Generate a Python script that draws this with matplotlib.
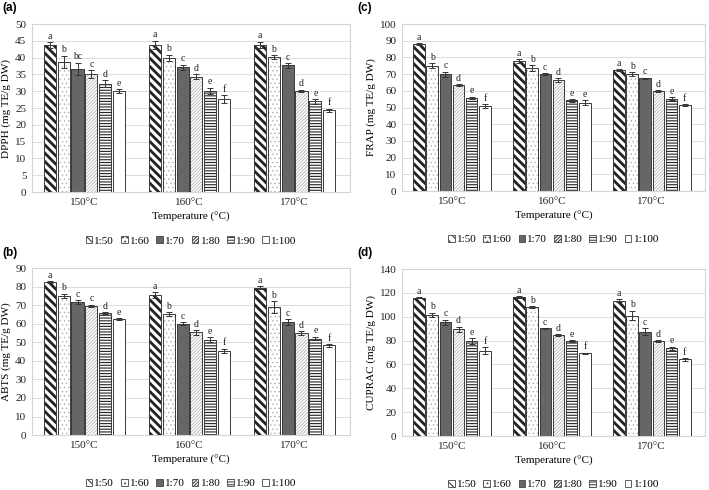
import matplotlib
matplotlib.use("Agg")
import matplotlib.pyplot as plt
from matplotlib.patches import Patch
import numpy as np

plt.rcParams["font.family"] = ["Liberation Serif", "DejaVu Serif"]
plt.rcParams["hatch.linewidth"] = 0.8

temps = ["150°C", "160°C", "170°C"]
ratios = ["1:50", "1:60", "1:70", "1:80", "1:90", "1:100"]

# rows = temperature, columns = ratio
dpph = [[43.7, 38.8, 36.7, 35.1, 32.3, 30.1],
        [43.8, 40.0, 37.1, 34.3, 30.1, 27.7],
        [43.8, 40.2, 37.7, 30.2, 27.0, 24.3]]
dpph_err = [[0.8, 1.8, 1.8, 1.2, 1.0, 0.6],
            [1.2, 0.9, 0.8, 0.7, 1.0, 1.2],
            [0.9, 0.6, 0.7, 0.3, 0.7, 0.5]]
dpph_let = [["a", "b", "bc", "c", "d", "e"],
            ["a", "b", "c", "d", "e", "f"],
            ["a", "b", "c", "d", "e", "f"]]

abts = [[82.5, 75.0, 71.8, 69.7, 65.7, 62.5],
        [75.5, 65.1, 60.1, 55.3, 51.5, 45.3],
        [79.4, 69.0, 61.0, 55.1, 52.0, 48.3]]
abts_err = [[0.6, 1.2, 1.0, 0.6, 0.5, 0.6],
            [1.5, 1.0, 0.6, 1.4, 1.2, 1.2],
            [0.9, 3.0, 1.5, 1.0, 1.0, 0.7]]
abts_let = [["a", "b", "c", "c", "d", "e"],
            ["a", "b", "c", "d", "e", "f"],
            ["a", "b", "c", "d", "e", "f"]]

frap = [[88.0, 75.0, 70.0, 63.5, 56.0, 51.0],
        [77.8, 73.6, 69.8, 66.5, 54.3, 53.0],
        [72.5, 70.0, 67.4, 60.0, 55.4, 51.3]]
frap_err = [[0.5, 1.5, 1.5, 0.6, 0.6, 1.0],
            [1.0, 1.8, 0.6, 1.2, 0.8, 1.5],
            [0.4, 1.0, 0.5, 0.4, 0.8, 0.6]]
frap_let = [["a", "b", "c", "d", "e", "f"],
            ["a", "b", "c", "d", "e", "e"],
            ["a", "b", "c", "d", "e", "f"]]

cuprac = [[116.0, 101.5, 95.5, 89.5, 79.5, 71.5],
          [116.5, 108.0, 90.2, 84.5, 79.7, 69.3],
          [113.5, 101.0, 87.5, 79.7, 73.5, 64.2]]
cuprac_err = [[0.6, 1.8, 2.0, 2.2, 2.5, 2.8],
              [0.5, 0.7, 0.3, 0.7, 0.6, 0.6],
              [1.2, 4.0, 3.0, 0.6, 1.5, 1.0]]
cuprac_let = [["a", "b", "c", "d", "e", "f"],
              ["a", "b", "c", "d", "e", "f"],
              ["a", "b", "c", "d", "e", "f"]]

# style per ratio: face, hatch, hatch colour, hatch linewidth
styles = [("white", "\\" * 4, "#222222", 2.0),
          ("white", "....", "#b0b0b0", 0.5),
          ("#666666", None, None, 0.8),
          ("white", "/" * 10, "#a8a8a8", 0.5),
          ("white", "-" * 6, "#222222", 0.8),
          ("white", None, None, 0.8)]

width = 0.115
step = 0.132
x = np.arange(len(temps))


def draw_bars(ax, x0, h, face, hatch, hcol, hlw):
    if hatch:
        b = ax.bar(x0, h, width, color=face, edgecolor=hcol, hatch=hatch, linewidth=0, zorder=2)
        for p in b:
            if hasattr(p, "set_hatch_linewidth"):
                p.set_hatch_linewidth(hlw)
    else:
        ax.bar(x0, h, width, color=face, linewidth=0, zorder=2)
    ax.bar(x0, h, width, facecolor="none", edgecolor="#3a3a3a", linewidth=0.7, zorder=3)


def panel(ax, vals, errs, lets, ylabel, ymax, ystep):
    vals = np.array(vals)
    errs = np.array(errs)
    for j, (face, hatch, hcol, hlw) in enumerate(styles):
        xpos = x + (j - 2.5) * step
        draw_bars(ax, xpos, vals[:, j], face, hatch, hcol, hlw)
        ax.errorbar(xpos, vals[:, j], yerr=errs[:, j], fmt="none", ecolor="#333333",
                    elinewidth=0.7, capsize=2, capthick=0.7, zorder=4)
        for i in range(len(temps)):
            ax.text(xpos[i], vals[i, j] + errs[i, j] + ymax * 0.008, lets[i][j],
                    ha="center", va="bottom", fontsize=7, color="#222222")
    ax.set_xlim(-0.5, 2.53)
    ax.set_ylim(0, ymax)
    ax.set_yticks(np.arange(0, ymax + 0.1, ystep))
    ax.set_xticks(x)
    ax.set_xticklabels(temps)
    ax.tick_params(length=0, labelsize=8, pad=4, colors="#222222")
    ax.grid(axis="y", color="#dcdcdc", linewidth=0.7, zorder=0)
    ax.set_axisbelow(True)
    for s in ax.spines.values():
        s.set_color("#d4d4d4")
        s.set_linewidth(0.8)
    ax.set_ylabel(ylabel, fontsize=8, labelpad=3)
    ax.set_xlabel("Temperature (°C)", fontsize=8, labelpad=4)
    handles = []
    for (face, hatch, hcol, hlw), lab in zip(styles, ratios):
        handles.append(Patch(facecolor=face, edgecolor="#444444", hatch=hatch, linewidth=0.6, label=lab))
    ax.legend(handles=handles, loc="center", bbox_to_anchor=(0.5, -0.29), ncol=6,
              frameon=False, fontsize=8, handlelength=0.6, handleheight=0.6,
              handletextpad=0.2, columnspacing=0.6)


fig = plt.figure(figsize=(7.09, 4.9), dpi=100)
ax_a = fig.add_axes([0.045, 0.608, 0.449, 0.343])
ax_c = fig.add_axes([0.567, 0.610, 0.427, 0.341])
ax_b = fig.add_axes([0.045, 0.112, 0.449, 0.341])
ax_d = fig.add_axes([0.567, 0.110, 0.427, 0.341])

panel(ax_a, dpph, dpph_err, dpph_let, "DPPH (mg TE/g DW)", 50, 5)
panel(ax_c, frap, frap_err, frap_let, "FRAP (mg TE/g DW)", 100, 10)
panel(ax_b, abts, abts_err, abts_let, "ABTS (mg TE/g DW)", 90, 10)
panel(ax_d, cuprac, cuprac_err, cuprac_let, "CUPRAC (mg TE/g DW)", 140, 20)

lab_kw = dict(fontsize=8.5, fontweight="bold", family=["Liberation Sans", "DejaVu Sans"], va="center")
fig.text(0.004, 1 - 8 / 490, "(a)", **lab_kw)
fig.text(0.504, 1 - 8 / 490, "(c)", **lab_kw)
fig.text(0.004, 1 - 253 / 490, "(b)", **lab_kw)
fig.text(0.504, 1 - 253 / 490, "(d)", **lab_kw)

fig.savefig("out.png", dpi=100)
